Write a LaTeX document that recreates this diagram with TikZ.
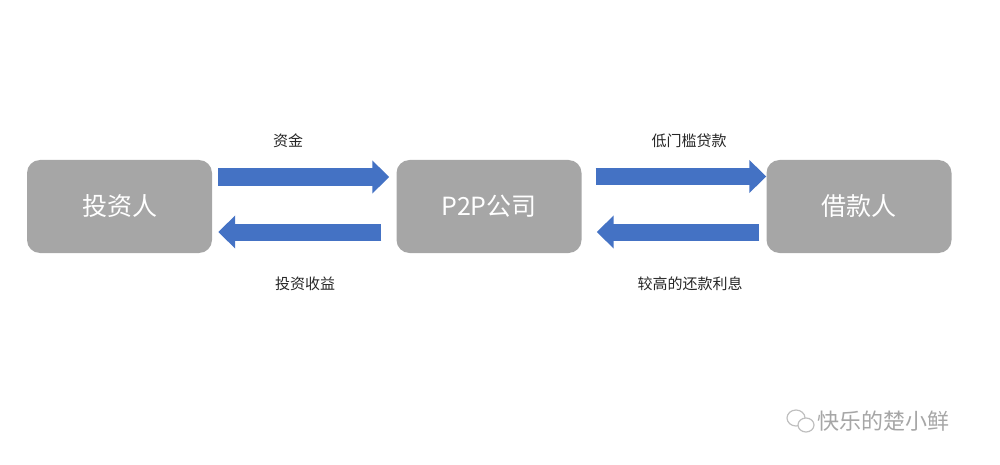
\documentclass[tikz,border=0pt]{standalone}
\usepackage{fontspec}
\setmainfont{Noto Sans CJK SC}
\usetikzlibrary{arrows.meta,positioning}
\definecolor{boxgray}{HTML}{A6A6A6}
\definecolor{arrblue}{HTML}{4472C4}
\tikzset{
    partysty/.style={draw=none,fill=boxgray,rounded corners=13pt,minimum width=185pt,minimum height=93pt,text=white,font=\fontsize{25}{30}\selectfont},
    flowsty/.style={draw=arrblue,line width=17pt,-{Triangle[width=32pt,length=17pt]}},
    labelsty/.style={font=\fontsize{15}{18}\selectfont,text=black!85},
    marksty/.style={text=black!35,font=\fontsize{22}{26}\selectfont},
}
\begin{document}
\begin{tikzpicture}[x=1pt,y=-1pt]
  \useasboundingbox (0,0) rectangle (1000,465);
  \node[partysty] (inv) at (119.5,206.5) {投资人};
  \node[partysty] (plat) at (489,206.5) {P2P公司};
  \node[partysty] (bor) at (859,206.5) {借款人};

  % flows
  \draw[flowsty] ([xshift=6pt,yshift=29.5pt]inv.east) -- ([xshift=-7pt,yshift=29.5pt]plat.west);
  \draw[flowsty] ([xshift=-15pt,yshift=-25.5pt]plat.west) -- ([xshift=6pt,yshift=-25.5pt]inv.east);
  \draw[flowsty] ([xshift=14pt,yshift=30pt]plat.east) -- ([xshift=0pt,yshift=30pt]bor.west);
  \draw[flowsty] ([xshift=-7pt,yshift=-25.5pt]bor.west) -- ([xshift=15pt,yshift=-25.5pt]plat.east);

  \node[labelsty] (l1) at (288,141) {资金};
  \node[labelsty] (l2) at (305,284) {投资收益};
  \node[labelsty] (l3) at (689,141) {低门槛贷款};
  \node[labelsty] (l4) at (690,284) {较高的还款利息};

  % watermark
  \draw[black!25,line width=1.2pt] (796,418) ellipse (9pt and 8pt);
  \draw[black!25,line width=1.2pt,fill=white] (806,425) ellipse (8pt and 7pt);
  \node[marksty,anchor=west] (wm) at (814,421) {快乐的楚小鲜};
\end{tikzpicture}
\end{document}
